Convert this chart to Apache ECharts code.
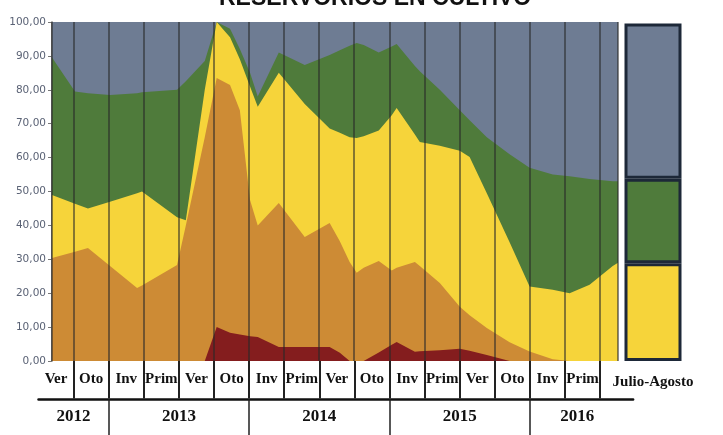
<!DOCTYPE html>
<html><head><meta charset="utf-8">
<script src="https://cdn.jsdelivr.net/npm/echarts@6/dist/echarts.min.js"></script>
<style>html,body{margin:0;padding:0;background:#fff}#c{width:723px;height:435px}</style>
</head><body><div id="c"></div>
<script>
// ---- data (x positions in "season" units; each season cell = 1) ----
const seasons = ['Ver','Oto','Inv','Prim','Ver','Oto','Inv','Prim','Ver','Oto','Inv','Prim','Ver','Oto','Inv','Prim'];
const years = ['2012','2013','2014','2015','2016'];
const yearCenters = [1, 4, 8, 12, 15.35];
const yearBounds = [2, 6, 10, 14];
const xPos = [0.385,1.04,1.41,2.04,2.81,2.95,3.95,4.20,4.74,5.08,5.46,5.74,6.03,6.25,6.85,7.59,8.30,8.59,8.87,9.07,9.27,9.70,10.07,10.21,10.73,10.87,11.44,12.01,12.29,12.78,13.43,14.00,14.66,15.14,15.71,16.37,16.52];
const red    = [0,0,0,0,0,0,0,0,0,10,8.3,7.8,7.3,7.1,4.1,4.1,4.1,2.4,0,0,0,2.5,4.8,5.6,2.7,2.9,3.2,3.6,3,1.8,0,0,0,0,0,0,0];
const orange = [30.4,32.2,33.3,28,21.5,22.3,28.3,40,66,73.5,73.1,66.2,40.2,32.9,42.5,32.5,36.6,32.9,29.2,26,27.5,27,21.9,21.9,26.5,25.1,19.8,12.4,10.5,7.9,5.5,2.8,0.5,0,0,0,0];
const yellow = [18.6,14.2,11.7,19,28,27.7,14.1,1.5,14,16.5,14.1,15,33.5,35,38.4,39.2,27.9,32,36.8,39.8,38.8,38.5,45.8,47.1,37.6,36.6,40.5,46,46.7,39.8,29.5,19.2,20.5,20,22.5,28,29];
const green  = [40.5,33.1,34,31.5,29.5,29.3,37.6,41,8.5,0,2.5,3,4,3,6,11.5,21.7,24.4,27,28,26.9,23,20.3,18.9,20.2,20.9,16.5,12,10.8,16.5,26,35,34,34.5,31.2,25,24];
const gray   = [10.5,20.5,21,21.5,21,20.7,20,17.5,11.5,0,2,8,15,22,9,12.7,9.7,8.3,7,6.2,6.8,9,7.2,6.5,13,14.5,20,26,29,34,39,43,45,45.5,46.3,47,47];
const barCategory = ['Julio-Agosto'];
const barYellow = [29];
const barGreen = [25];
const barGray = [46];
const titleText = 'RESERVORIOS EN CULTIVO';

// ---- styles ----
const C = { red:'#841d1e', orange:'#cd8b35', yellow:'#f6d43a', green:'#4f7b3b', gray:'#6e7c93' };
const layers = [red, orange, yellow, green, gray];
const layerColors = [C.red, C.orange, C.yellow, C.green, C.gray];
const cum = [];
layers.forEach((arr, k) => {
  cum.push(arr.map((v, i) => (k ? cum[k-1][i] : 0) + v));
});
const areaSeries = [];
for (let k = layers.length - 1; k >= 0; k--) {
  areaSeries.push({
    type: 'line', xAxisIndex: 0, yAxisIndex: 0, symbol: 'none', silent: true,
    lineStyle: { width: 0 }, areaStyle: { color: layerColors[k], opacity: 1 },
    data: xPos.map((x, i) => [x, cum[k][i]])
  });
}
const serif = 'Liberation Serif';
const fmt = v => v.toFixed(2).replace('.', ',');

const chart = echarts.init(document.getElementById('c'), null, { renderer: 'canvas' });
chart.setOption({
  animation: false,
  backgroundColor: '#fff',
  title: { text: titleText, left: 214, top: -18,
    textStyle: { fontFamily: 'Liberation Sans', fontWeight: 'bold', fontSize: 23, color: '#111' } },
  grid: [
    { left: 52, top: 22, width: 566, height: 339 },           // areas
    { left: 624.5, top: 23.5, width: 57, height: 337.5 },     // Julio-Agosto bar
    { left: 38.5, top: 361, width: 561.6, height: 37.5 },     // seasons row
    { left: 38.5, top: 399, width: 594.6, height: 36 }        // years row
  ],
  xAxis: [
    { gridIndex: 0, type: 'value', min: 0.385, max: 16.52, splitNumber: 16, minInterval: 1, maxInterval: 1, z: 5,
      axisLine: { show: false }, axisTick: { show: false }, axisLabel: { show: false },
      splitLine: { show: true, lineStyle: { color: 'rgba(40,40,40,0.55)', width: 2 } } },
    { gridIndex: 1, type: 'category', data: barCategory,
      axisLine: { show: false }, axisTick: { show: false },
      axisLabel: { margin: 14, fontFamily: serif, fontWeight: 'bold', fontSize: 15, color: '#111' } },
    { gridIndex: 2, type: 'category', data: seasons, position: 'top',
      axisLine: { show: false, onZero: false },
      axisTick: { show: true, inside: true, length: 37.5, interval: (i) => i !== 0, lineStyle: { color: '#222', width: 2 } },
      axisLabel: { inside: true, margin: 11, interval: 0, fontFamily: serif, fontWeight: 'bold', fontSize: 15, color: '#111' },
      splitLine: { show: false } },
    { gridIndex: 3, type: 'value', min: 0, max: 16.94, position: 'top',
      axisLine: { show: true, onZero: false, lineStyle: { color: '#111', width: 2.5 } },
      axisTick: { show: true, inside: true, length: 36, customValues: yearBounds, lineStyle: { color: '#222', width: 1.5 } },
      axisLabel: { inside: true, margin: 9, customValues: yearCenters,
        formatter: (v) => { const i = yearCenters.indexOf(v); return i >= 0 ? years[i] : ''; },
        fontFamily: serif, fontWeight: 'bold', fontSize: 17, color: '#111' },
      splitLine: { show: false } }
  ],
  yAxis: [
    { gridIndex: 0, type: 'value', min: 0, max: 100, interval: 10,
      axisLine: { show: true, lineStyle: { color: '#555', width: 1.5 } },
      axisTick: { show: true, length: 4, lineStyle: { color: '#777' } },
      axisLabel: { margin: 6, formatter: fmt, fontFamily: 'DejaVu Sans', fontSize: 10.5, color: '#5a6275' },
      splitLine: { show: false } },
    { gridIndex: 1, type: 'value', min: 0, max: 100, show: false },
    { gridIndex: 2, type: 'value', min: 0, max: 1, show: false },
    { gridIndex: 3, type: 'value', min: 0, max: 1, show: false }
  ],
  series: areaSeries.concat([
    { type: 'bar', xAxisIndex: 1, yAxisIndex: 1, stack: 'ja', barWidth: '100%', data: barYellow,
      itemStyle: { color: C.yellow, borderColor: '#1d2838', borderWidth: 3 } },
    { type: 'bar', xAxisIndex: 1, yAxisIndex: 1, stack: 'ja', barWidth: '100%', data: barGreen,
      itemStyle: { color: C.green, borderColor: '#1d2838', borderWidth: 3 } },
    { type: 'bar', xAxisIndex: 1, yAxisIndex: 1, stack: 'ja', barWidth: '100%', data: barGray,
      itemStyle: { color: C.gray, borderColor: '#1d2838', borderWidth: 3 } }
  ])
});
</script></body></html>
